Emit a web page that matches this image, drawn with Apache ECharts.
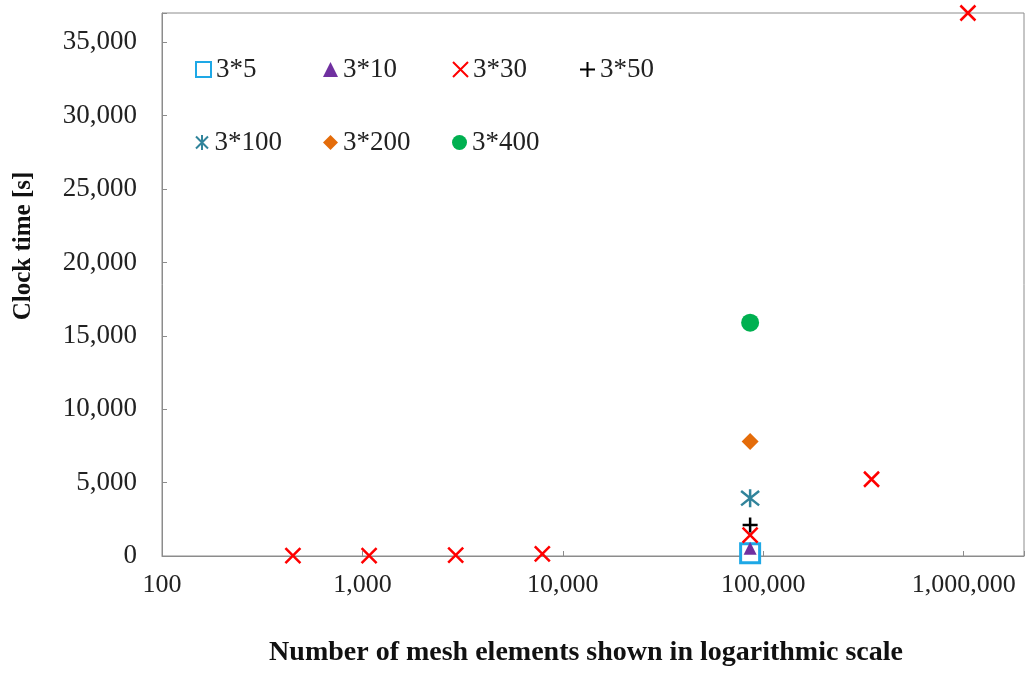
<!DOCTYPE html>
<html>
<head>
<meta charset="utf-8">
<script src="https://cdn.jsdelivr.net/npm/echarts@6/dist/echarts.min.js"></script>
<style>
  html, body { margin: 0; padding: 0; background: #fff; }
  #chart { width: 1029px; height: 673px; }
</style>
</head>
<body>
<div id="chart"></div>
<script>
// case names (grid sizes)
var caseNames = ['3*5', '3*10', '3*30', '3*50', '3*100', '3*200', '3*400'];

// mesh element counts per case
var mesh5 = [86000];
var mesh10 = [86000];
var mesh30 = [450, 1080, 2920, 7900, 86000, 347000, 1050000];
var mesh50 = [86000];
var mesh100 = [86000];
var mesh200 = [86000];
var mesh400 = [86000];

// clock time [s] per case
var time5 = [180];
var time10 = [520];
var time30 = [20, 30, 60, 150, 1430, 5230, 37000];
var time50 = [2110];
var time100 = [3940];
var time200 = [7800];
var time400 = [15900];

var xTickLabels = ['100', '1,000', '10,000', '100,000', '1,000,000'];

function pairs(xs, ys) {
    return xs.map(function (x, i) { return [x, ys[i]]; });
}

var seriesData = [
    pairs(mesh5, time5),
    pairs(mesh10, time10),
    pairs(mesh30, time30),
    pairs(mesh50, time50),
    pairs(mesh100, time100),
    pairs(mesh200, time200),
    pairs(mesh400, time400)
];

var clear = 'rgba(0,0,0,0)';
var looks = [
    { symbol: 'rect', size: 19, itemStyle: { color: '#fff', borderColor: '#1ea8e6', borderWidth: 3 } },
    { symbol: 'triangle', size: 13, itemStyle: { color: '#7030a0' } },
    { symbol: 'path://M0,0L10,10M10,0L0,10', size: 15, itemStyle: { color: clear, borderColor: '#ff0000', borderWidth: 2.5 } },
    { symbol: 'path://M5,0L5,10M0,5L10,5', size: 15, itemStyle: { color: clear, borderColor: '#000', borderWidth: 2.5 } },
    { symbol: 'path://M1,1L9,9M9,1L1,9M5,0L5,10', size: 18, itemStyle: { color: clear, borderColor: '#31849b', borderWidth: 2.5 } },
    { symbol: 'diamond', size: 17, itemStyle: { color: '#e46c0a' } },
    { symbol: 'circle', size: 18, itemStyle: { color: '#00b050' } }
];
looks.forEach(function (l) { l.itemStyle.opacity = 1; });

// legend slots: 4 on the first row, 3 on the second
var legendSlots = [[195, 56], [323, 56], [452, 56], [579, 56], [195, 129], [323, 129], [452, 129]];

var chartDom = document.getElementById('chart');
var myChart = echarts.init(chartDom);

var font = 'Liberation Serif';

var option = {
    animation: false,
    textStyle: { fontFamily: font },
    grid: {
        left: 162, right: 5, top: 13, bottom: 117,
        show: true, borderColor: '#8c8c8c', borderWidth: 1
    },
    legend: caseNames.map(function (n, i) {
        return {
            data: [n],
            left: legendSlots[i][0],
            top: legendSlots[i][1],
            itemWidth: 15,
            itemHeight: 15,
            itemGap: 2,
            padding: 0,
            textStyle: { fontFamily: font, fontSize: 27, color: '#222' }
        };
    }),
    xAxis: {
        type: 'log',
        logBase: 10,
        min: 100,
        max: 2000000,
        name: 'Number of mesh elements shown in logarithmic scale',
        nameLocation: 'middle',
        nameGap: 83,
        nameTextStyle: { fontFamily: font, fontSize: 28, fontWeight: 'bold', color: '#111', padding: [0, 14, 0, 0] },
        axisLine: { lineStyle: { color: '#8c8c8c' } },
        axisTick: { inside: true, length: 5, lineStyle: { color: '#8c8c8c' } },
        splitLine: { show: false },
        minorTick: { show: false },
        axisLabel: {
            margin: 16,
            fontSize: 26,
            color: '#222',
            fontFamily: font,
            formatter: function (v) {
                var p = Math.round(Math.log10(v));
                if (Math.abs(Math.log10(v) - p) > 1e-6) return '';
                return xTickLabels[p - 2] || '';
            }
        }
    },
    yAxis: {
        type: 'value',
        min: 0,
        max: 37000,
        interval: 5000,
        axisLine: { show: true, lineStyle: { color: '#8c8c8c' } },
        axisTick: { show: true, inside: true, length: 5, lineStyle: { color: '#8c8c8c' } },
        splitLine: { show: false },
        axisLabel: {
            margin: 25,
            fontSize: 27,
            color: '#222',
            fontFamily: font,
            formatter: function (v) {
                if (v % 5000 !== 0) return '';
                return v.toLocaleString('en-US');
            }
        }
    },
    graphic: [{
        type: 'text',
        x: 24,
        y: 246,
        rotation: Math.PI / 2,
        style: {
            text: 'Clock time [s]',
            fontFamily: font,
            fontSize: 25,
            fontWeight: 'bold',
            fill: '#111',
            align: 'center',
            verticalAlign: 'middle'
        }
    }],
    series: caseNames.map(function (n, i) {
        return {
            name: n,
            type: 'scatter',
            data: seriesData[i],
            symbol: looks[i].symbol,
            symbolSize: looks[i].size,
            itemStyle: looks[i].itemStyle,
            clip: false
        };
    })
};

option && myChart.setOption(option);
</script>
</body>
</html>
